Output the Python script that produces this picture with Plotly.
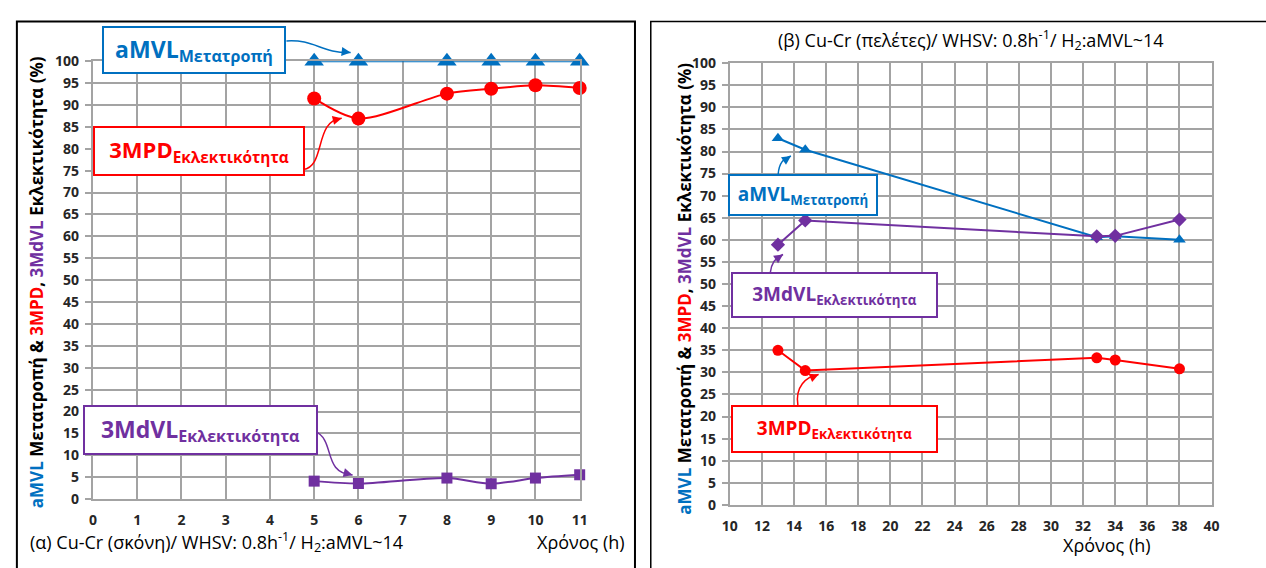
import plotly.graph_objects as go

W, H = 1266, 568

# ---------------- data ----------------
# panel (α) Cu-Cr powder
t_a = [5, 6, 8, 9, 10, 11]
amvl_conv_a = [100, 100, 100, 100, 100, 100]
mpd_sel_a = [91.5, 86.9, 92.6, 93.7, 94.5, 93.9]
mdvl_sel_a = [4.1, 3.55, 4.8, 3.5, 4.8, 5.55]

# panel (β) Cu-Cr pellets
t_b = [13, 14.7, 32.85, 34, 38]
amvl_conv_b = [83.0, 80.4, 60.6, 60.8, 60.0]
mdvl_sel_b = [58.9, 64.4, 60.8, 60.9, 64.6]
mpd_sel_b = [35.0, 30.4, 33.3, 32.8, 30.8]

y_ticks = list(range(0, 101, 5))
x_ticks_a = list(range(0, 12, 1))
x_ticks_b = list(range(10, 41, 2))

BLUE = "#0070C0"
RED = "#FF0000"
PURPLE = "#7030A0"
GRID = "#a3a3a3"
FONT = "Open Sans"


def px(x):
    return x / W


def py(y):
    return 1 - y / H


fig = go.Figure()

# ---- panel α traces ----
fig.add_trace(go.Scatter(x=t_a, y=amvl_conv_a, mode="lines+markers",
                         line=dict(color=BLUE, width=2),
                         marker=dict(symbol="triangle-up", size=17, color=BLUE),
                         cliponaxis=False, xaxis="x", yaxis="y", showlegend=False))
fig.add_trace(go.Scatter(x=t_a, y=mpd_sel_a, mode="lines+markers",
                         line=dict(color=RED, width=2, shape="spline", smoothing=0.8),
                         marker=dict(symbol="circle", size=14, color=RED),
                         cliponaxis=False, xaxis="x", yaxis="y", showlegend=False))
fig.add_trace(go.Scatter(x=t_a, y=mdvl_sel_a, mode="lines+markers",
                         line=dict(color=PURPLE, width=2, shape="spline", smoothing=0.8),
                         marker=dict(symbol="square", size=11, color=PURPLE),
                         cliponaxis=False, xaxis="x", yaxis="y", showlegend=False))

# ---- panel β traces ----
fig.add_trace(go.Scatter(x=t_b, y=amvl_conv_b, mode="lines+markers",
                         line=dict(color=BLUE, width=2),
                         marker=dict(symbol="triangle-up", size=11, color=BLUE),
                         cliponaxis=False, xaxis="x2", yaxis="y2", showlegend=False))
fig.add_trace(go.Scatter(x=t_b, y=mdvl_sel_b, mode="lines+markers",
                         line=dict(color=PURPLE, width=2),
                         marker=dict(symbol="diamond", size=11, color=PURPLE),
                         cliponaxis=False, xaxis="x2", yaxis="y2", showlegend=False))
fig.add_trace(go.Scatter(x=t_b, y=mpd_sel_b, mode="lines+markers",
                         line=dict(color=RED, width=2),
                         marker=dict(symbol="circle", size=11, color=RED),
                         cliponaxis=False, xaxis="x2", yaxis="y2", showlegend=False))

tickfont = dict(family=FONT, size=14, color="#262626", weight="bold")
axis_common = dict(showgrid=True, gridcolor=GRID, gridwidth=2,
                   showline=True, linecolor=GRID, linewidth=2, mirror=True,
                   zeroline=False, tickfont=tickfont, fixedrange=True)

fig.update_layout(
    width=W, height=H,
    margin=dict(l=0, r=0, t=0, b=0),
    paper_bgcolor="white", plot_bgcolor="white",
    font=dict(family=FONT),
    hovermode=False,
    xaxis=dict(domain=[px(86), px(579)], range=[0, 11], tickvals=x_ticks_a,
               ticks="", ticklabelstandoff=7, anchor="y", **axis_common),
    yaxis=dict(domain=[py(506), py(53)], range=[0, 100], tickvals=y_ticks,
               ticks="outside", ticklen=6, tickcolor=GRID, tickwidth=2,
               ticklabelstandoff=3, anchor="x", **axis_common),
    xaxis2=dict(domain=[px(731), px(1219)], range=[10, 40], tickvals=x_ticks_b,
                ticks="", ticklabelstandoff=7, anchor="y2", **axis_common),
    yaxis2=dict(domain=[py(512), py(55)], range=[0, 100], tickvals=y_ticks,
                ticks="outside", ticklen=6, tickcolor=GRID, tickwidth=2,
                ticklabelstandoff=3, anchor="x2", **axis_common),
)

# panel frames
shapes = [
    dict(type="rect", xref="paper", yref="paper", x0=px(9), x1=px(635), y0=py(580), y1=py(12),
         line=dict(color="black", width=2)),
    dict(type="rect", xref="paper", yref="paper", x0=px(651), x1=px(1275), y0=py(580), y1=py(12),
         line=dict(color="black", width=1.5)),
]


def curve(pts, color):
    (x0, y0), (c1x, c1y), (c2x, c2y), (x1, y1) = pts
    path = "M {} {} C {} {} {} {} {} {}".format(px(x0), py(y0), px(c1x), py(c1y),
                                                px(c2x), py(c2y), px(x1), py(y1))
    return dict(type="path", xref="paper", yref="paper", path=path,
                line=dict(color=color, width=1.5))


arrows = [
    ([(282, 32), (310, 30), (318, 45), (347, 44)], BLUE, (-8, -1)),
    ([(299, 165), (322, 162), (310, 114), (338, 112)], RED, (-8, 2)),
    ([(311, 436), (332, 445), (318, 479), (349, 481)], PURPLE, (-8, -2)),
    ([(780, 170), (781, 158), (785, 154), (793, 151)], BLUE, (-6, 4)),
    ([(772, 272), (773, 262), (777, 256), (785, 253)], PURPLE, (-6, 4)),
    ([(800, 409), (797, 390), (808, 379), (821, 377)], RED, (-7, 3)),
]
annotations = []
for pts, color, (dx, dy) in arrows:
    shapes.append(curve(pts, color))
    tx, ty = pts[-1]
    annotations.append(dict(xref="paper", yref="paper", x=px(tx), y=py(ty), text="",
                            showarrow=True, ax=dx, ay=dy, arrowhead=2, arrowsize=1.2,
                            arrowwidth=1.5, arrowcolor=color, axref="pixel", ayref="pixel"))

# labelled boxes
boxes = [
    ("aMVL", "Μετατροπή", BLUE, 188, 41, 180, 44, 23),
    ("3MPD", "Εκλεκτικότητα", RED, 193, 146, 208, 46, 22),
    ("3MdVL", "Εκλεκτικότητα", PURPLE, 194.5, 435, 231, 46, 23),
    ("aMVL", "Μετατροπή", BLUE, 805, 191, 146, 38, 19),
    ("3MdVL", "Εκλεκτικότητα", PURPLE, 837.5, 295, 203, 42, 19),
    ("3MPD", "Εκλεκτικότητα", RED, 837.5, 434, 203, 44, 19),
]
for main, sub, color, cx, cy, w, h, fs in boxes:
    annotations.append(dict(
        xref="paper", yref="paper", x=px(cx), y=py(cy), xanchor="center", yanchor="middle",
        text="<b>{}<sub>{}</sub></b>".format(main, sub), showarrow=False,
        font=dict(family=FONT, size=fs, color=color),
        bordercolor=color, borderwidth=2, borderpad=0, bgcolor="white",
        width=w, height=h, align="center", valign="middle"))

ytitle = ("<b><span style='color:{b}'>aMVL</span> Μετατροπή &amp; "
          "<span style='color:{r}'>3MPD</span>, <span style='color:{p}'>3MdVL</span> "
          "Εκλεκτικότητα (%)</b>").format(b=BLUE, r=RED, p=PURPLE)
annotations.append(dict(xref="paper", yref="paper", x=px(29), y=py(282), text=ytitle,
                        textangle=-90, showarrow=False, xanchor="center", yanchor="middle",
                        font=dict(family=FONT, size=17, color="black")))
annotations.append(dict(xref="paper", yref="paper", x=px(685), y=py(288), text=ytitle,
                        textangle=-90, showarrow=False, xanchor="center", yanchor="middle",
                        font=dict(family=FONT, size=17, color="black")))

annotations.append(dict(xref="paper", yref="paper", x=px(20), y=py(550), xanchor="left",
                        yanchor="middle", showarrow=False,
                        text="(α) Cu-Cr (σκόνη)/ WHSV: 0.8h<sup>-1</sup>/ H<sub>2</sub>:aMVL~14",
                        font=dict(family=FONT, size=18, color="black")))
annotations.append(dict(xref="paper", yref="paper", x=px(627), y=py(550), xanchor="right",
                        yanchor="middle", showarrow=False, text="Χρόνος (h)",
                        font=dict(family=FONT, size=18, color="black")))
annotations.append(dict(xref="paper", yref="paper", x=px(975), y=py(31), xanchor="center",
                        yanchor="middle", showarrow=False,
                        text="(β) Cu-Cr (πελέτες)/ WHSV: 0.8h<sup>-1</sup>/ H<sub>2</sub>:aMVL~14",
                        font=dict(family=FONT, size=18, color="black")))
annotations.append(dict(xref="paper", yref="paper", x=px(1113), y=py(553), xanchor="center",
                        yanchor="middle", showarrow=False, text="Χρόνος (h)",
                        font=dict(family=FONT, size=18, color="black")))

fig.update_layout(shapes=shapes, annotations=annotations)

fig.write_html("out.html", config={"displayModeBar": False},
               post_script="document.body.style.margin='0px';document.body.style.overflow='hidden';")
